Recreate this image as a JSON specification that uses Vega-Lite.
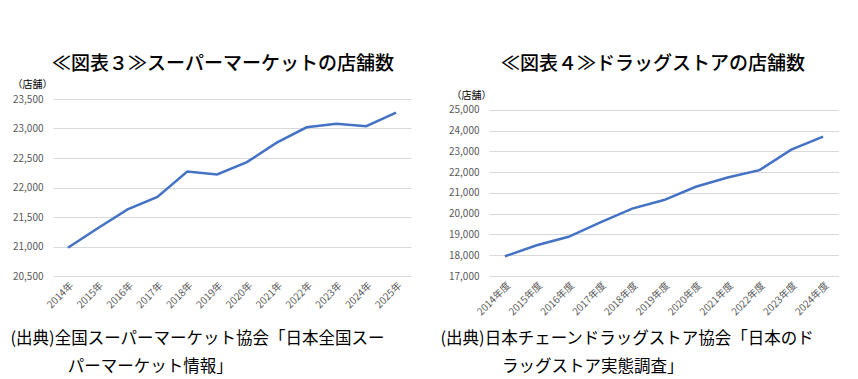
{
  "$schema": "https://vega.github.io/schema/vega-lite/v6.json",
  "background": "white",
  "padding": {"left": 10, "top": 55, "right": 0, "bottom": 0},
  "bounds": "flush",
  "spacing": 78,
  "config": {
    "font": "Noto Sans CJK JP",
    "view": {"stroke": null},
    "axis": {"labelColor": "#595959", "labelFontSize": 10, "domain": false, "ticks": false, "gridColor": "#d9d9d9", "titleFontWeight": "normal", "titleColor": "#000000"}
  },
  "hconcat": [
    {
      "width": 358,
      "height": 177,
      "title": {"text": "≪図表３≫スーパーマーケットの店舗数", "fontSize": 19, "fontWeight": 500, "color": "#000000", "anchor": "middle", "frame": "group", "dx": -9, "offset": 5},
      "data": {"values": [
        {"year": "2014年", "stores": 20980},
        {"year": "2015年", "stores": 21310},
        {"year": "2016年", "stores": 21630},
        {"year": "2017年", "stores": 21840},
        {"year": "2018年", "stores": 22270},
        {"year": "2019年", "stores": 22220},
        {"year": "2020年", "stores": 22430},
        {"year": "2021年", "stores": 22760},
        {"year": "2022年", "stores": 23020},
        {"year": "2023年", "stores": 23080},
        {"year": "2024年", "stores": 23040},
        {"year": "2025年", "stores": 23270}
      ]},
      "mark": {"type": "line", "color": "#4472C4", "strokeWidth": 2.5},
      "encoding": {
        "x": {"field": "year", "type": "ordinal", "sort": null, "scale": {"type": "point", "padding": 0.5},
          "axis": {"labelAngle": -45, "grid": false, "labelPadding": 4,
            "title": ["(出典)全国スーパーマーケット協会「日本全国スー", "\u200d　　　\u2005 パーマーケット情報」"],
            "titleX": -43, "titleY": 54, "titleAlign": "left", "titleAnchor": "start", "titleBaseline": "top", "titleFontSize": 16.5, "titleLineHeight": 28}},
        "y": {"field": "stores", "type": "quantitative", "scale": {"domain": [20500, 23500], "nice": false, "zero": false},
          "axis": {"values": [20500, 21000, 21500, 22000, 22500, 23000, 23500], "format": ",d", "grid": true, "labelPadding": 10,
            "title": "（店舗）", "titleAngle": 0, "titleX": -41, "titleY": -15, "titleAlign": "left", "titleBaseline": "middle", "titleFontSize": 10}}
      }
    },
    {
      "width": 350,
      "height": 177,
      "title": {"text": "≪図表４≫ドラッグストアの店舗数", "fontSize": 19, "fontWeight": 500, "color": "#000000", "anchor": "middle", "frame": "group", "dx": -11, "offset": 16},
      "data": {"values": [
        {"year": "2014年度", "stores": 17950},
        {"year": "2015年度", "stores": 18480},
        {"year": "2016年度", "stores": 18890},
        {"year": "2017年度", "stores": 19580},
        {"year": "2018年度", "stores": 20250},
        {"year": "2019年度", "stores": 20660},
        {"year": "2020年度", "stores": 21300},
        {"year": "2021年度", "stores": 21750},
        {"year": "2022年度", "stores": 22100},
        {"year": "2023年度", "stores": 23090},
        {"year": "2024年度", "stores": 23720}
      ]},
      "mark": {"type": "line", "color": "#4472C4", "strokeWidth": 2.5},
      "encoding": {
        "x": {"field": "year", "type": "ordinal", "sort": null, "scale": {"type": "point", "padding": 0.5},
          "axis": {"labelAngle": -45, "grid": false, "labelPadding": 4,
            "title": ["(出典)日本チェーンドラッグストア協会「日本のド", "\u200d　　　\u2002 ラッグストア実態調査」"],
            "titleX": -49, "titleY": 54, "titleAlign": "left", "titleAnchor": "start", "titleBaseline": "top", "titleFontSize": 16.5, "titleLineHeight": 28}},
        "y": {"field": "stores", "type": "quantitative", "scale": {"domain": [17000, 25530], "nice": false, "zero": false},
          "axis": {"values": [17000, 18000, 19000, 20000, 21000, 22000, 23000, 24000, 25000], "format": ",d", "grid": true, "labelPadding": 10,
            "title": "（店舗）", "titleAngle": 0, "titleX": -38, "titleY": -4, "titleAlign": "left", "titleBaseline": "middle", "titleFontSize": 10}}
      }
    }
  ]
}
